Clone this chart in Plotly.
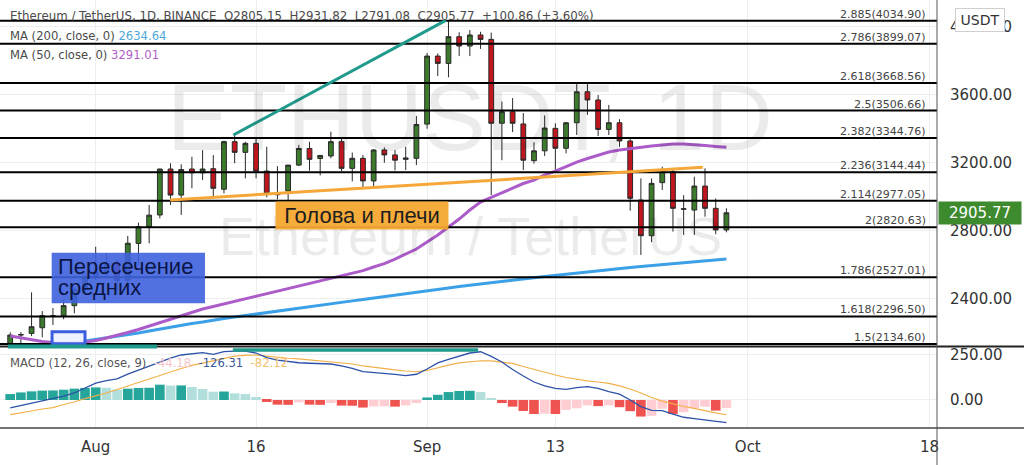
import plotly.graph_objects as go
import pandas as pd

# ---------------- data ----------------
dates = pd.date_range("2021-07-24", periods=68, freq="D")

opens = [2128, 2187, 2197, 2230, 2301, 2300, 2360, 2455, 2530, 2557, 2608, 2510, 2726, 2824,
         2893, 3163, 3010, 3163, 3141, 3165, 3044, 3324, 3261, 3314, 3151, 3012, 3034, 3186,
         3284, 3225, 3240, 3324, 3167, 3226, 3093, 3275, 3246, 3220, 3226, 3427, 3827, 3784,
         3941, 3886, 3951, 3925, 3432, 3500, 3428, 3212, 3270, 3402, 3285, 3435, 3617, 3569,
         3396, 3435, 3328, 2981, 2771, 3083, 3147, 2930, 2922, 3063, 2932, 2805.15]
highs = [2203, 2204, 2438, 2328, 2346, 2395, 2470, 2550, 2706, 2669, 2630, 2770, 2848, 2951,
         3165, 3197, 3191, 3235, 3274, 3245, 3330, 3363, 3324, 3343, 3294, 3180, 3188, 3305,
         3323, 3245, 3382, 3340, 3260, 3245, 3280, 3290, 3275, 3294, 3475, 3845, 3843, 4039,
         3967, 3980, 3970, 3965, 3560, 3580, 3492, 3320, 3478, 3432, 3440, 3667, 3667, 3598,
         3540, 3456, 3344, 3108, 3108, 3177, 3161, 3010, 3118, 3167, 2990, 2931.82]
lows = [2110, 2122, 2181, 2174, 2246, 2280, 2315, 2440, 2510, 2530, 2450, 2480, 2600, 2726,
        2873, 2952, 2893, 3050, 3098, 2999, 3020, 3197, 3108, 3108, 2997, 2985, 2976, 3180,
        3153, 3126, 3226, 3150, 3090, 3050, 3050, 3200, 3155, 3157, 3186, 3400, 3710, 3702,
        3827, 3827, 3869, 3010, 3215, 3380, 3157, 3195, 3240, 3157, 3255, 3363, 3481, 3357,
        3363, 3293, 2918, 2658, 2733, 3040, 2795, 2775, 2775, 2883, 2780, 2791.08]
closes = [2187, 2190, 2236, 2301, 2298, 2360, 2455, 2530, 2557, 2608, 2507, 2727, 2824, 2892,
          3163, 3010, 3160, 3141, 3163, 3050, 3324, 3261, 3314, 3151, 3020, 3018, 3186, 3284,
          3220, 3243, 3324, 3167, 3226, 3093, 3275, 3246, 3215, 3228, 3425, 3827, 3784, 3941,
          3886, 3951, 3925, 3432, 3500, 3432, 3215, 3270, 3404, 3285, 3435, 3617, 3569, 3396,
          3435, 3328, 2991, 2771, 3079, 3147, 2932, 2927, 3063, 2932, 2804.91, 2905.77]

ma200 = [2122, 2126, 2129, 2132, 2135, 2139, 2143, 2152, 2161, 2170, 2182, 2190, 2199, 2211,
         2223, 2235, 2243, 2255, 2264, 2276, 2285, 2293, 2302, 2311, 2320, 2329, 2337, 2346,
         2354, 2363, 2371, 2380, 2388, 2396, 2405, 2413, 2421, 2429, 2437, 2446, 2455, 2464,
         2472, 2480, 2487, 2495, 2503, 2510, 2517, 2524, 2531, 2538, 2545, 2552, 2558, 2565,
         2571, 2578, 2584, 2590, 2596, 2601, 2607, 2613, 2618, 2624, 2629, 2634.64]
ma50 = [2181, 2170, 2158, 2149, 2143, 2140, 2140, 2146, 2155, 2170, 2184, 2202, 2220, 2240,
        2258, 2281, 2302, 2322, 2340, 2355, 2370, 2384, 2399, 2417, 2431, 2446, 2461, 2475,
        2490, 2505, 2519, 2534, 2549, 2566, 2587, 2607, 2634, 2663, 2693, 2734, 2775, 2822,
        2869, 2922, 2969, 2996, 3022, 3051, 3078, 3098, 3128, 3151, 3178, 3204, 3225, 3245,
        3263, 3275, 3284, 3293, 3298, 3304, 3310, 3310, 3307, 3301, 3296, 3291.01]

macd = [-44, -31, -17, -3, 11, 22, 39, 67, 94, 108, 117, 144, 167, 189, 213, 233, 250, 258,
        263, 254, 269, 272, 272, 261, 236, 222, 214, 207, 204, 202, 200, 189, 176, 157, 153,
        148, 142, 135, 143, 172, 206, 225, 244, 261, 268, 242, 211, 169, 133, 100, 78, 65, 59,
        69, 74, 64, 46, 32, 0, -37, -58, -59, -78, -96, -103, -111, -121, -126.31]
signal = [-81, -69, -61, -50, -42, -25, -11, 8, 22, 39, 58, 78, 97, 118, 137, 156, 175, 192,
          206, 219, 233, 244, 248, 250, 244, 237, 232, 228, 223, 219, 214, 208, 200, 189, 181,
          172, 167, 161, 157, 164, 181, 194, 206, 214, 218, 217, 211, 203, 186, 169, 153, 139,
          125, 114, 106, 100, 92, 78, 61, 39, 14, -6, -22, -36, -47, -61, -72, -82.12]
hist = [33, 42, 48, 52, 53, 57, 63, 67, 70, 68, 58, 63, 67, 68, 85, 80, 81, 72, 61, 46, 47,
        37, 33, 17, -11, -26, -27, -13, -26, -27, -17, -31, -32, -42, -36, -35, -37, -30, -17,
        14, 29, 44, 50, 51, 44, 6, -17, -37, -61, -78, -76, -78, -55, -46, -30, -34, -30, -40,
        -62, -92, -88, -48, -78, -68, -46, -37, -59, -44.18]

fib_ratios = ["2.885", "2.786", "2.618", "2.5", "2.382", "2.236", "2.114", "2", "1.786", "1.618", "1.5"]
fib_prices = [4034.90, 3899.07, 3668.56, 3506.66, 3344.76, 3144.44, 2977.05, 2820.63, 2527.01, 2296.50, 2134.60]

price_ticks = [2400, 2800, 3200, 3600, 4000]
macd_ticks = [0, 250]
x_tick_vals = ["2021-08-01", "2021-08-16", "2021-09-01", "2021-09-13", "2021-10-01", "2021-10-18"]
x_tick_text = ["Aug", "16", "Sep", "13", "Oct", "18"]

# user drawings (date, value) anchor points
teal_trend_x = ["2021-08-13 21:00", "2021-09-02 18:00"]
teal_trend_y = [3363, 4037]
orange_trend_x = ["2021-08-07 23:00", "2021-09-26 19:00"]
orange_trend_y = [2981, 3173]
cross_rect_x = ["2021-07-27 22:00", "2021-07-31 00:00"]
cross_rect_y = [2136, 2207]
cross_box_x = ["2021-07-27 21:10", "2021-08-11 05:20"]
cross_box_y = [2374, 2671]
cross_text_x = "2021-07-28 07:00"
cross_text_y = [2590, 2467]
cross_text = ["Пересечение", "средних"]
macd_teal1_x = ["2021-07-23 19:00", "2021-08-06 17:30"]
macd_teal2_x = ["2021-08-13 20:00", "2021-09-05 18:40"]
macd_teal2_y = 278
label_hs_pos = ("2021-08-25 21:50", 2892)

# ---------------- layout helpers ----------------
W, H = 1024, 465
PW, PH = 937, 428          # plot area (right scale 87px, time scale 37px)
def px(x):
    return x / PW
def py(y):
    return (PH - y) / PH

MAIN_BOTTOM, MACD_TOP = 346, 347
x_range = ["2021-07-23 01:08", "2021-10-18 16:48"]
y_range = [2122.8, 4156.6]
y2_range = [-155.6, 294.4]

FONT = "DejaVu Sans"
GREEN, RED = "#3c7b2c", "#c3151e"
LEG = 11.6

# histogram colours (TradingView rule)
hcol = []
for i, v in enumerate(hist):
    prev = hist[i - 1] if i > 0 else -1e9
    if v >= 0:
        hcol.append("#26a69a" if v > prev else "#b2dfdb")
    else:
        hcol.append("#ef5350" if v < prev else "#ffcdd2")

fig = go.Figure()

fig.add_trace(go.Candlestick(
    x=dates, open=opens, high=highs, low=lows, close=closes,
    increasing=dict(line=dict(color="#2a2a2a", width=1), fillcolor=GREEN),
    decreasing=dict(line=dict(color="#2a2a2a", width=1), fillcolor=RED),
    xaxis="x", yaxis="y", hoverinfo="skip"))
fig.add_trace(go.Scatter(x=dates, y=ma200, mode="lines", line=dict(color="#3ba0e6", width=3),
                         xaxis="x", yaxis="y", hoverinfo="skip"))
fig.add_trace(go.Scatter(x=dates, y=ma50, mode="lines", line=dict(color="#ab5cc9", width=3),
                         xaxis="x", yaxis="y", hoverinfo="skip"))

fig.add_trace(go.Bar(x=dates, y=hist, marker=dict(color=hcol, line=dict(width=0)),
                     xaxis="x2", yaxis="y2", hoverinfo="skip"))
fig.add_trace(go.Scatter(x=dates, y=signal, mode="lines", line=dict(color="#f2b04a", width=1.2),
                         xaxis="x2", yaxis="y2", hoverinfo="skip"))
fig.add_trace(go.Scatter(x=dates, y=macd, mode="lines", line=dict(color="#2d52a8", width=1.3),
                         xaxis="x2", yaxis="y2", hoverinfo="skip"))

shapes = []
for p in fib_prices:
    shapes.append(dict(type="line", xref="paper", x0=0, x1=1, yref="y", y0=p, y1=p,
                       line=dict(color="black", width=2), layer="above"))
shapes.append(dict(type="line", xref="x", yref="y", x0=teal_trend_x[0], x1=teal_trend_x[1],
                   y0=teal_trend_y[0], y1=teal_trend_y[1], line=dict(color="#1f9a8c", width=3)))
shapes.append(dict(type="line", xref="x", yref="y", x0=orange_trend_x[0], x1=orange_trend_x[1],
                   y0=orange_trend_y[0], y1=orange_trend_y[1], line=dict(color="#f5a73a", width=3)))
shapes.append(dict(type="rect", xref="x", yref="y", x0=cross_rect_x[0], x1=cross_rect_x[1],
                   y0=cross_rect_y[0], y1=cross_rect_y[1], line=dict(color="#3a5ee0", width=3),
                   fillcolor="rgba(238,240,255,0.92)"))
shapes.append(dict(type="rect", xref="x", yref="y", x0=cross_box_x[0], x1=cross_box_x[1],
                   y0=cross_box_y[0], y1=cross_box_y[1], line=dict(width=0),
                   fillcolor="rgba(62,98,222,0.9)"))
# pane frame
shapes.append(dict(type="line", xref="paper", yref="paper", x0=0, x1=W / PW,
                   y0=py(346.5), y1=py(346.5), line=dict(color="#222", width=2)))
shapes.append(dict(type="line", xref="paper", yref="paper", x0=0, x1=W / PW,
                   y0=0, y1=0, line=dict(color="#444", width=1.5)))
shapes.append(dict(type="line", xref="paper", yref="paper", x0=1, x1=1,
                   y0=-(H - PH) / PH, y1=1, line=dict(color="#555", width=1)))
shapes.append(dict(type="line", xref="x2", yref="paper", x0=macd_teal1_x[0], x1=macd_teal1_x[1],
                   y0=py(346.5), y1=py(346.5), line=dict(color="#1f9a8c", width=4)))
shapes.append(dict(type="line", xref="x2", yref="y2", x0=macd_teal2_x[0], x1=macd_teal2_x[1],
                   y0=macd_teal2_y, y1=macd_teal2_y, line=dict(color="#1f9a8c", width=3.5)))

def note(**kw):
    d = dict(showarrow=False, xanchor="center", yanchor="middle")
    d.update(kw)
    return d

ann = []
# watermark
ann.append(note(xref="paper", yref="paper", x=px(470), y=py(118), text="ETHUSDT, 1D",
                font=dict(family="Liberation Sans", size=94, color="rgba(0,0,0,0.08)")))
ann.append(note(xref="paper", yref="paper", x=px(470), y=py(236), text="Ethereum / TetherUS",
                font=dict(family="Liberation Sans", size=54, color="rgba(0,0,0,0.08)")))

# fib labels
for r, p in zip(fib_ratios, fib_prices):
    ann.append(note(xref="paper", yref="y", x=px(928), y=p, xanchor="right", yanchor="bottom",
                    text=f"{r}({p:.2f})", yshift=-2,
                    font=dict(family=FONT, size=11, color="#444")))

# legends
chg = closes[-1] - closes[-2]
pct = chg / closes[-2] * 100
nb = "\u00a0\u00a0"
row1 = (f"Ethereum / TetherUS, 1D, BINANCE{nb}O{opens[-1]:.2f}{nb}H{highs[-1]:.2f}{nb}"
        f"L{lows[-1]:.2f}{nb}C{closes[-1]:.2f}{nb}{chg:+.2f} ({pct:+.2f}%)")
ann.append(note(xref="paper", yref="paper", x=px(8), y=py(16), xanchor="left",
                text=row1, font=dict(family=FONT, size=11.8, color="#4a4a4a")))
ann.append(note(xref="paper", yref="paper", x=px(8), y=py(36), xanchor="left",
                text=f"MA (200, close, 0) <span style='color:#4ea7dc'>{ma200[-1]:.2f}</span>",
                font=dict(family=FONT, size=LEG, color="#4a4a4a")))
ann.append(note(xref="paper", yref="paper", x=px(8), y=py(55), xanchor="left",
                text=f"MA (50, close, 0) <span style='color:#b05fc6'>{ma50[-1]:.2f}</span>",
                font=dict(family=FONT, size=LEG, color="#4a4a4a")))
ann.append(note(xref="paper", yref="paper", x=px(8), y=py(363), xanchor="left",
                text=(f"MACD (12, 26, close, 9){nb}<span style='color:#f5c3cc'>{hist[-1]:.2f}</span>{nb}"
                      f"<span style='color:#3b5898'>{macd[-1]:.2f}</span>{nb}"
                      f"<span style='color:#f3c16e'>{signal[-1]:.2f}</span>"),
                font=dict(family=FONT, size=LEG, color="#555")))

# drawing labels
ann.append(note(xref="x", yref="y", x=label_hs_pos[0], y=label_hs_pos[1], text="Голова и плечи",
                width=172, height=27, borderpad=0, bgcolor="rgba(246,168,48,0.95)",
                font=dict(family="Liberation Sans", size=22, color="#1e1e1e")))
for t, yy in zip(cross_text, cross_text_y):
    ann.append(note(xref="x", yref="y", x=cross_text_x, y=yy, text=t, xanchor="left",
                    font=dict(family="Liberation Sans", size=22, color="#0b1545")))

# right scale badges
ann.append(note(xref="paper", yref="paper", x=px(980), y=py(20), text="USDT",
                width=46, height=20, bgcolor="white", bordercolor="#cfcfcf", borderwidth=1, borderpad=1,
                font=dict(family=FONT, size=14, color="#333")))
ann.append(note(xref="paper", yref="y", x=px(980), y=closes[-1], text=f"{closes[-1]:.2f}",
                width=80, height=20, bgcolor="#3e8a2f", borderpad=1,
                font=dict(family=FONT, size=15, color="white")))

grid = "#eeeeee"
fig.update_layout(
    width=W, height=H, margin=dict(l=0, r=W - PW, t=0, b=H - PH),
    paper_bgcolor="white", plot_bgcolor="white", showlegend=False,
    boxgap=0.36, bargap=0.1,
    shapes=shapes, annotations=ann,
    xaxis=dict(domain=[0, 1], anchor="y", type="date", range=x_range, rangeslider=dict(visible=False),
               tickvals=x_tick_vals, showticklabels=False, showgrid=True, gridcolor=grid,
               zeroline=False, ticks=""),
    yaxis=dict(domain=[py(MAIN_BOTTOM), 1], anchor="x", range=y_range, side="right",
               tickvals=price_ticks, tickformat=".2f", showgrid=True, gridcolor=grid, zeroline=False,
               ticks="", ticklabelstandoff=12, tickfont=dict(family=FONT, size=15, color="#333")),
    xaxis2=dict(domain=[0, 1], anchor="y2", type="date", range=x_range, tickvals=x_tick_vals,
                ticktext=x_tick_text, showgrid=True, gridcolor=grid, zeroline=False, ticks="",
                ticklabelstandoff=8, tickfont=dict(family=FONT, size=15, color="#333")),
    yaxis2=dict(domain=[0, py(MACD_TOP)], anchor="x2", range=y2_range, side="right",
                tickvals=macd_ticks, tickformat=".2f", showgrid=True, gridcolor=grid, zeroline=False,
                ticks="", ticklabelstandoff=12, tickfont=dict(family=FONT, size=15, color="#333")),
)

fig.write_html("out.html", config={"displayModeBar": False},
               post_script="document.body.style.margin='0px';")
